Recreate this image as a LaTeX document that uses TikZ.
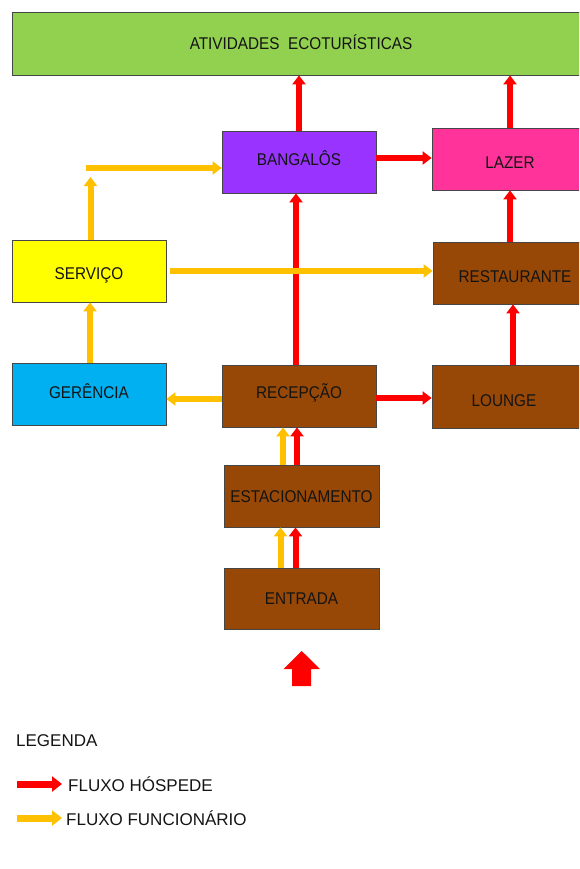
\documentclass[tikz,border=0pt]{standalone}
\usepackage{fontspec}
\setmainfont{Liberation Sans}
\usetikzlibrary{arrows.meta}
\definecolor{cgreen}{RGB}{146,208,80}
\definecolor{cpurple}{RGB}{153,51,255}
\definecolor{cpink}{RGB}{255,51,153}
\definecolor{cyel}{RGB}{255,255,0}
\definecolor{cblue}{RGB}{0,176,240}
\definecolor{cbrown}{RGB}{151,72,6}
\definecolor{corange}{RGB}{255,192,0}
\definecolor{cred}{RGB}{255,0,0}
\definecolor{cborder}{RGB}{70,70,70}
\definecolor{ctext}{RGB}{20,20,20}
\begin{document}
\begin{tikzpicture}[x=1pt,y=-1pt,
  box/.style={draw=cborder, line width=0.8pt, minimum width=154pt, minimum height=62pt,
    inner sep=0pt, text height=12.2pt, text depth=0pt, text=ctext,
    font=\fontsize{17}{17}\selectfont\addfontfeature{FakeStretch=0.9}},
  redarr/.style={draw=cred, line width=6pt, -{Triangle[width=13pt,length=9pt]}},
  ylwarr/.style={draw=corange, line width=6pt, -{Triangle[width=13pt,length=9pt]}},
  legarr/.style={line width=7pt, -{Triangle[width=15pt,length=10pt]}},
  legtext/.style={anchor=west, inner sep=0pt, text=ctext, font=\fontsize{17}{17}\selectfont}
]
\useasboundingbox (0,0) rectangle (579,869);
\clip (0,0) rectangle (579,869);

% boxes
\node[box, fill=cgreen, minimum width=578pt, minimum height=63pt] (green) at (301,43.5) {ATIVIDADES\hspace{0.5em}ECOTURÍSTICAS};
\node[box, fill=cpurple] (bang) at (299,162) {\raisebox{3pt}{BANGALÔS}};
\node[box, fill=cpink, minimum width=156pt] (lazer) at (510,159) {\raisebox{-3pt}{LAZER}};
\node[box, fill=cyel] (serv) at (89,271) {\raisebox{-2pt}{SERVIÇO}};
\node[box, fill=cbrown, minimum width=156pt] (rest) at (511,273) {\hspace*{8pt}\raisebox{-3pt}{RESTAURANTE}};
\node[box, fill=cblue] (ger) at (89,394) {\raisebox{2pt}{GERÊNCIA}};
\node[box, fill=cbrown] (rec) at (299,396) {\raisebox{4pt}{RECEPÇÃO}};
\node[box, fill=cbrown, minimum width=156pt, minimum height=63pt] (lounge) at (510,396.5) {\hspace*{-12pt}\raisebox{-4pt}{LOUNGE}};
\node[box, fill=cbrown, minimum width=155pt] (estac) at (301.5,496) {ESTACIONAMENTO};
\node[box, fill=cbrown, minimum width=155pt, minimum height=61pt] (entr) at (301.5,598.5) {ENTRADA};

% guest flow (red)
\draw[redarr] (bang.north) -- (bang.north |- green.south);
\draw[redarr] (lazer.north) -- (lazer.north |- green.south);
\draw[redarr] ([yshift=4pt]bang.east) -- ([yshift=4pt]bang.east -| lazer.west);
\draw[redarr] ([xshift=-3pt]rec.north) -- ([xshift=-3pt]rec.north |- bang.south);
\draw[redarr] ([xshift=-1pt]rest.north) -- ([xshift=-1pt]rest.north |- lazer.south);
\draw[redarr] ([xshift=3pt]lounge.north) -- ([xshift=3pt]lounge.north |- rest.south);
\draw[redarr] ([yshift=-2pt]rec.east) -- ([yshift=-2pt]rec.east -| lounge.west);
\draw[redarr] ([xshift=-4.5pt]estac.north) -- ([xshift=-4.5pt]estac.north |- rec.south);
\draw[redarr] ([xshift=-6pt]entr.north) -- ([xshift=-6pt]entr.north |- estac.south);

% staff flow (orange)
\coordinate (ytop) at (90.5,177);
\coordinate (yleft) at (86,168);
\draw[ylwarr] ([yshift=-3pt]rec.west) -- ([yshift=-3pt]rec.west -| ger.east);
\draw[ylwarr] ([xshift=1pt]ger.north) -- ([xshift=1pt]ger.north |- serv.south);
\draw[ylwarr] (serv.north -| ytop) -- (ytop);
\draw[ylwarr] (yleft) -- (yleft -| bang.west);
\draw[ylwarr] ([xshift=4pt]serv.east) -- (serv.east -| rest.west);
\draw[ylwarr] ([xshift=-18.5pt]estac.north) -- ([xshift=-18.5pt]estac.north |- rec.south);
\draw[ylwarr] ([xshift=-21pt]entr.north) -- ([xshift=-21pt]entr.north |- estac.south);

% entrance block arrow
\fill[cred] (292,686) -- (292,669) -- (283.5,669) -- (301.7,651) -- (320,669) -- (311,669) -- (311,686) -- cycle;

% legend
\node[legtext] (leg) at (16,741) {LEGENDA};
\coordinate (lr1) at (17,784);
\coordinate (lr2) at (62,784);
\coordinate (ly1) at (17,818);
\coordinate (ly2) at (62,818);
\draw[legarr, draw=cred] (lr1) -- (lr2);
\draw[legarr, draw=corange] (ly1) -- (ly2);
\node[legtext] (lhosp) at (68,784) {FLUXO HÓSPEDE};
\node[legtext] (lfunc) at (66,818) {FLUXO FUNCIONÁRIO};
\end{tikzpicture}
\end{document}
